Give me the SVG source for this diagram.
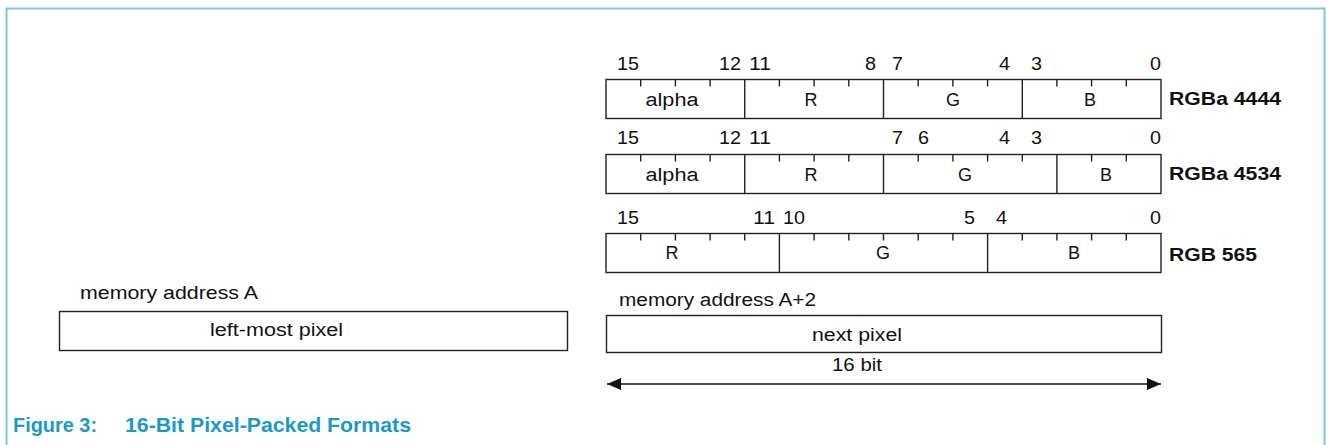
<svg xmlns="http://www.w3.org/2000/svg" width="1327" height="445" viewBox="0 0 1327 445">
  <style>
    .frame { fill: none; stroke: #7cc7db; stroke-width: 2; }
    .box { fill: #ffffff; stroke: #222222; stroke-width: 1.4; }
    .tick { fill: none; stroke: #222222; stroke-width: 1.4; }
    .num { font-family: "Liberation Sans", Arial, sans-serif; font-size: 18px; fill: #111111; }
    .lbl { font-family: "Liberation Sans", Arial, sans-serif; font-size: 18px; fill: #111111; }
    .fmt { font-family: "Liberation Sans", Arial, sans-serif; font-size: 18px; font-weight: bold; fill: #111111; }
    .cap { font-family: "Liberation Sans", Arial, sans-serif; font-size: 20px; font-weight: bold; fill: #1b9ac6; }
    .mid { text-anchor: middle; }
    .end { text-anchor: end; }
  </style>
  <defs>
    <marker id="ah" viewBox="0 0 14 12" refX="14" refY="6" markerWidth="14" markerHeight="12" markerUnits="userSpaceOnUse" orient="auto-start-reverse">
      <path d="M0,0 L14,6 L0,12 Z" fill="#111111"/>
    </marker>
  </defs>

  <path class="frame" d="M6.5,445 V8.5 H1324.5 V445"/>

  <g id="row-rgba4444">
    <text class="num" x="617" y="70" textLength="22" lengthAdjust="spacingAndGlyphs">15</text>
    <text class="num end" x="741" y="70" textLength="22" lengthAdjust="spacingAndGlyphs">12</text>
    <text class="num" x="749" y="70" textLength="22" lengthAdjust="spacingAndGlyphs">11</text>
    <text class="num end" x="876" y="70" textLength="11" lengthAdjust="spacingAndGlyphs">8</text>
    <text class="num" x="892" y="70" textLength="11" lengthAdjust="spacingAndGlyphs">7</text>
    <text class="num end" x="1010" y="70" textLength="11" lengthAdjust="spacingAndGlyphs">4</text>
    <text class="num" x="1031" y="70" textLength="11" lengthAdjust="spacingAndGlyphs">3</text>
    <text class="num end" x="1161" y="70" textLength="11" lengthAdjust="spacingAndGlyphs">0</text>
    <rect class="box" x="606" y="79.5" width="555" height="39"/>
    <path class="tick" d="M744.75,79.5 V118.5 M883.5,79.5 V118.5 M1022.3,79.5 V118.5"/>
    <path class="tick" d="M640.7,79.5 v7 M675.4,79.5 v7 M710.1,79.5 v7 M779.4,79.5 v7 M814.1,79.5 v7 M848.8,79.5 v7 M918.2,79.5 v7 M952.9,79.5 v7 M987.6,79.5 v7 M1056.9,79.5 v7 M1091.6,79.5 v7 M1126.3,79.5 v7"/>
    <text class="lbl mid" x="672" y="106" textLength="53" lengthAdjust="spacingAndGlyphs">alpha</text>
    <text class="lbl mid" x="811" y="106">R</text>
    <text class="lbl mid" x="953" y="106">G</text>
    <text class="lbl mid" x="1090" y="106">B</text>
    <text class="fmt" x="1169" y="105" textLength="112" lengthAdjust="spacingAndGlyphs">RGBa 4444</text>
  </g>

  <g id="row-rgba4534">
    <text class="num" x="617" y="144" textLength="22" lengthAdjust="spacingAndGlyphs">15</text>
    <text class="num end" x="741" y="144" textLength="22" lengthAdjust="spacingAndGlyphs">12</text>
    <text class="num" x="749" y="144" textLength="22" lengthAdjust="spacingAndGlyphs">11</text>
    <text class="num" x="892" y="144" textLength="11" lengthAdjust="spacingAndGlyphs">7</text>
    <text class="num" x="918" y="144" textLength="11" lengthAdjust="spacingAndGlyphs">6</text>
    <text class="num end" x="1010" y="144" textLength="11" lengthAdjust="spacingAndGlyphs">4</text>
    <text class="num" x="1031" y="144" textLength="11" lengthAdjust="spacingAndGlyphs">3</text>
    <text class="num end" x="1161" y="144" textLength="11" lengthAdjust="spacingAndGlyphs">0</text>
    <rect class="box" x="606" y="154.5" width="555" height="39"/>
    <path class="tick" d="M744.75,154.5 V193.5 M883.5,154.5 V193.5 M1056.9,154.5 V193.5"/>
    <path class="tick" d="M640.7,154.5 v7 M675.4,154.5 v7 M710.1,154.5 v7 M779.4,154.5 v7 M814.1,154.5 v7 M848.8,154.5 v7 M918.2,154.5 v7 M952.9,154.5 v7 M987.6,154.5 v7 M1022.3,154.5 v7 M1091.6,154.5 v7 M1126.3,154.5 v7"/>
    <text class="lbl mid" x="672" y="181" textLength="53" lengthAdjust="spacingAndGlyphs">alpha</text>
    <text class="lbl mid" x="811" y="181">R</text>
    <text class="lbl mid" x="965" y="181">G</text>
    <text class="lbl mid" x="1106" y="181">B</text>
    <text class="fmt" x="1169" y="180" textLength="112" lengthAdjust="spacingAndGlyphs">RGBa 4534</text>
  </g>

  <g id="row-rgb565">
    <text class="num" x="617" y="224" textLength="22" lengthAdjust="spacingAndGlyphs">15</text>
    <text class="num end" x="775" y="224" textLength="22" lengthAdjust="spacingAndGlyphs">11</text>
    <text class="num" x="783" y="224" textLength="22" lengthAdjust="spacingAndGlyphs">10</text>
    <text class="num end" x="975" y="224" textLength="11" lengthAdjust="spacingAndGlyphs">5</text>
    <text class="num" x="996" y="224" textLength="11" lengthAdjust="spacingAndGlyphs">4</text>
    <text class="num end" x="1161" y="224" textLength="11" lengthAdjust="spacingAndGlyphs">0</text>
    <rect class="box" x="606" y="233.5" width="555" height="39"/>
    <path class="tick" d="M779.4,233.5 V272.5 M987.6,233.5 V272.5"/>
    <path class="tick" d="M640.7,233.5 v7 M675.4,233.5 v7 M710.1,233.5 v7 M744.75,233.5 v7 M814.1,233.5 v7 M848.8,233.5 v7 M883.5,233.5 v7 M918.2,233.5 v7 M952.9,233.5 v7 M1022.3,233.5 v7 M1056.9,233.5 v7 M1091.6,233.5 v7 M1126.3,233.5 v7"/>
    <text class="lbl mid" x="672" y="259">R</text>
    <text class="lbl mid" x="883" y="259">G</text>
    <text class="lbl mid" x="1074" y="259">B</text>
    <text class="fmt" x="1169" y="261" textLength="88" lengthAdjust="spacingAndGlyphs">RGB 565</text>
  </g>

  <g id="pixel-left">
    <text class="lbl" x="80" y="299" textLength="178" lengthAdjust="spacingAndGlyphs">memory address A</text>
    <rect class="box" x="59.5" y="311.5" width="508" height="39"/>
    <text class="lbl" x="210" y="336" textLength="133" lengthAdjust="spacingAndGlyphs">left-most pixel</text>
  </g>

  <g id="pixel-next">
    <text class="lbl" x="619" y="306" textLength="197" lengthAdjust="spacingAndGlyphs">memory address A+2</text>
    <rect class="box" x="606.5" y="315.5" width="555" height="37"/>
    <text class="lbl" x="812" y="341" textLength="90" lengthAdjust="spacingAndGlyphs">next pixel</text>
  </g>

  <g id="connectors">
    <line x1="607" y1="384" x2="1161" y2="384" stroke="#111111" stroke-width="1.4" marker-start="url(#ah)" marker-end="url(#ah)"/>
  </g>
  <g id="width-label">
    <text class="lbl" x="832" y="371" textLength="50" lengthAdjust="spacingAndGlyphs">16 bit</text>
  </g>

  <g id="caption">
    <text class="cap" x="13" y="432" textLength="84" lengthAdjust="spacingAndGlyphs">Figure 3:</text>
    <text class="cap" x="125" y="432" textLength="286" lengthAdjust="spacingAndGlyphs">16-Bit Pixel-Packed Formats</text>
  </g>
</svg>
